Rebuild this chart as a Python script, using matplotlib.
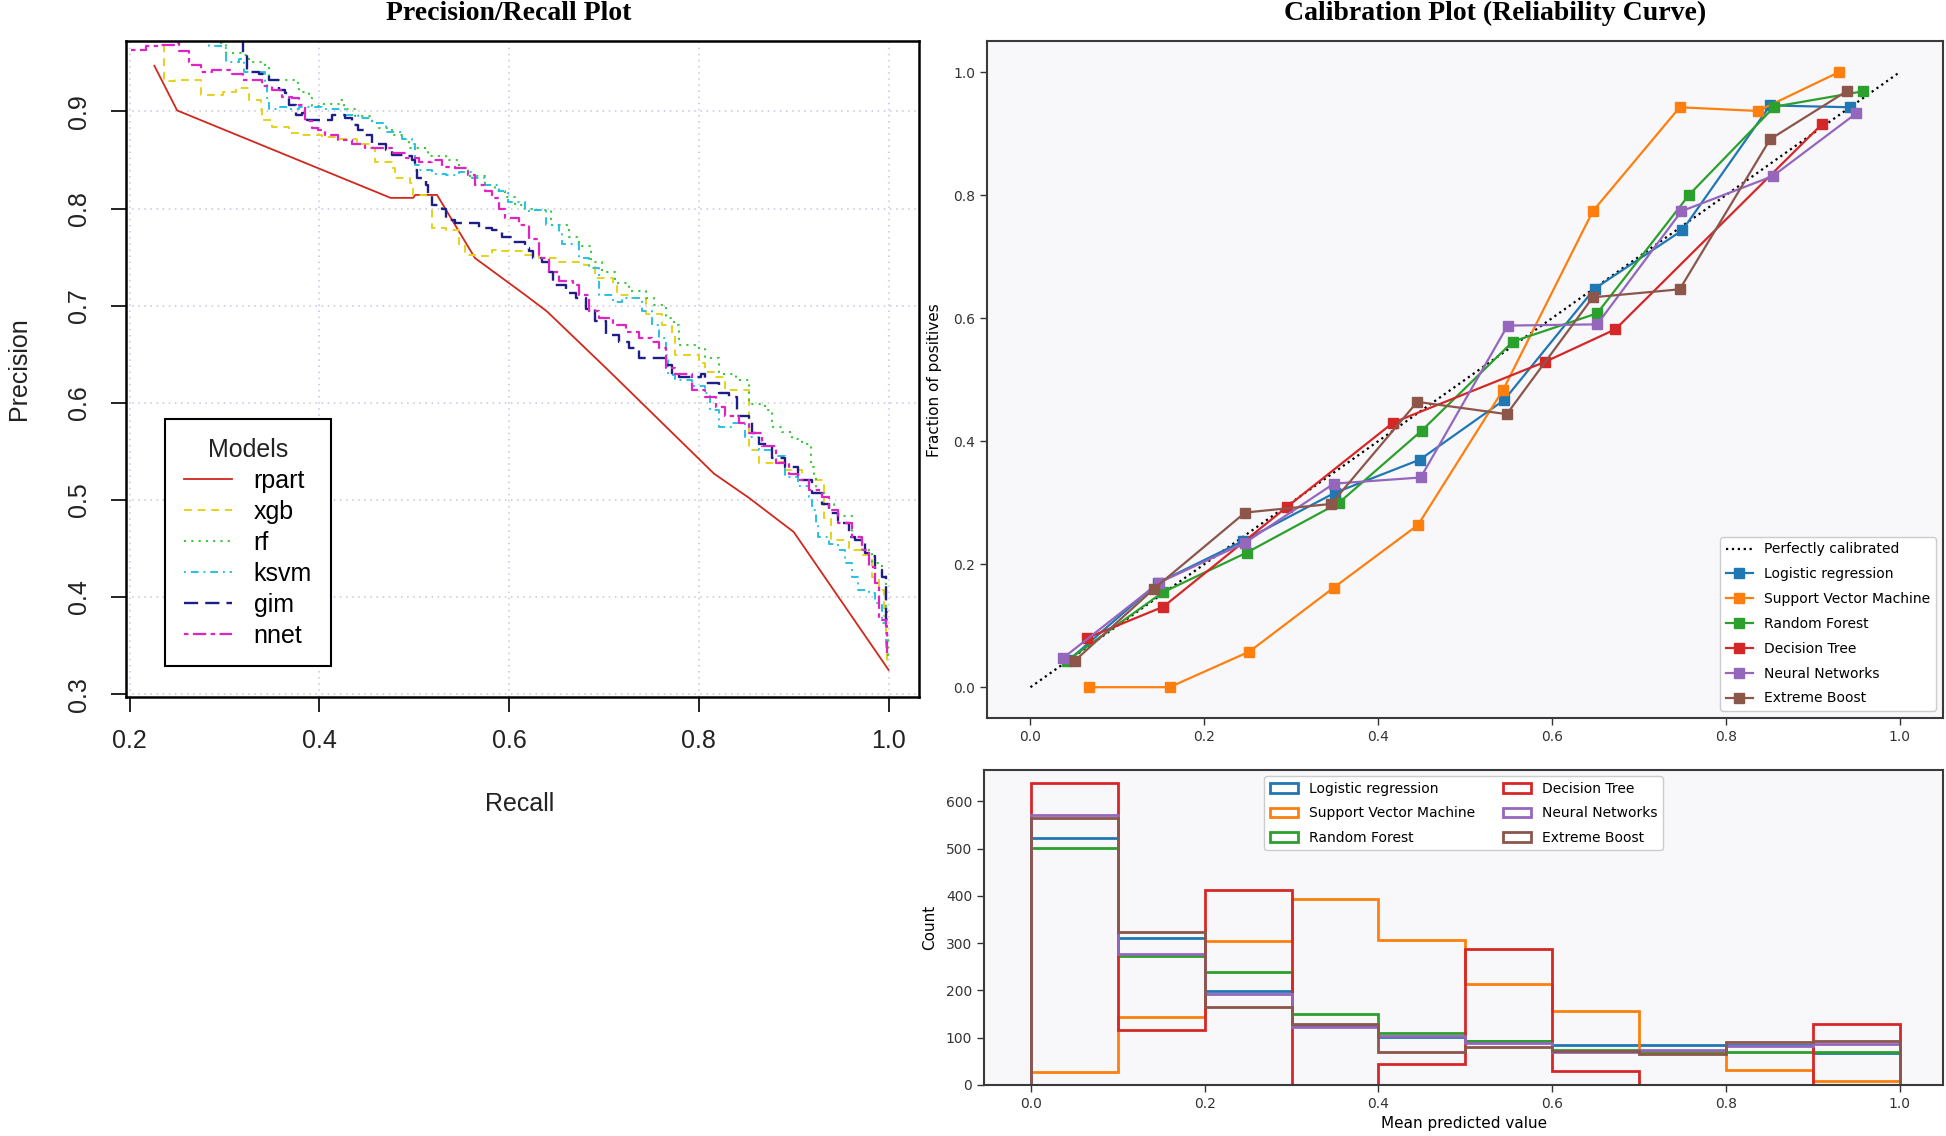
import numpy as np
import matplotlib
matplotlib.use('Agg')
import matplotlib.pyplot as plt
from matplotlib.patches import Patch

plt.rcParams['font.family'] = ['DejaVu Sans']

#==============================================================================
# Precision / recall curves, (recall, precision) vertices
rpart_pr = [(0.226, 0.947), (0.250, 0.901), (0.475, 0.811), (0.499, 0.811),
            (0.501, 0.814), (0.524, 0.814), (0.564, 0.749), (0.617, 0.711),
            (0.640, 0.694), (0.704, 0.634), (0.816, 0.527), (0.853, 0.502),
            (0.900, 0.467), (1.000, 0.325)]

xgb_pr = [(0.226, 0.972), (0.236, 0.970), (0.236, 0.931), (0.248, 0.932),
          (0.275, 0.917), (0.298, 0.920), (0.312, 0.924), (0.326, 0.912),
          (0.338, 0.903), (0.340, 0.891), (0.350, 0.884), (0.368, 0.878),
          (0.378, 0.876), (0.392, 0.876), (0.403, 0.874), (0.420, 0.872),
          (0.440, 0.866), (0.457, 0.862), (0.459, 0.848), (0.477, 0.842),
          (0.480, 0.831), (0.496, 0.826), (0.499, 0.814), (0.512, 0.812),
          (0.519, 0.780), (0.533, 0.778), (0.547, 0.763), (0.554, 0.752),
          (0.564, 0.751), (0.582, 0.757), (0.592, 0.756), (0.617, 0.752),
          (0.632, 0.749), (0.653, 0.745), (0.679, 0.742), (0.691, 0.728),
          (0.709, 0.721), (0.714, 0.711), (0.730, 0.708), (0.744, 0.691),
          (0.761, 0.680), (0.772, 0.670), (0.775, 0.649), (0.800, 0.641),
          (0.807, 0.632), (0.818, 0.627), (0.828, 0.613), (0.853, 0.551),
          (0.863, 0.538), (0.881, 0.539), (0.891, 0.531), (0.909, 0.520),
          (0.932, 0.481), (0.939, 0.459), (0.958, 0.448), (0.972, 0.443),
          (0.983, 0.421), (0.990, 0.407), (0.995, 0.380), (0.997, 0.342),
          (0.998, 0.332)]

rf_pr = [(0.270, 0.976), (0.294, 0.970), (0.301, 0.960), (0.317, 0.958),
         (0.326, 0.951), (0.343, 0.946), (0.347, 0.932), (0.361, 0.932),
         (0.377, 0.929), (0.378, 0.920), (0.389, 0.914), (0.392, 0.906),
         (0.403, 0.908), (0.422, 0.912), (0.426, 0.902), (0.438, 0.895),
         (0.455, 0.888), (0.463, 0.883), (0.477, 0.876), (0.487, 0.872),
         (0.494, 0.862), (0.515, 0.854), (0.533, 0.850), (0.547, 0.842),
         (0.557, 0.834), (0.575, 0.824), (0.585, 0.818), (0.596, 0.812),
         (0.606, 0.804), (0.617, 0.800), (0.625, 0.799), (0.644, 0.783),
         (0.663, 0.771), (0.674, 0.761), (0.686, 0.745), (0.698, 0.735),
         (0.712, 0.723), (0.726, 0.715), (0.744, 0.708), (0.753, 0.701),
         (0.765, 0.687), (0.774, 0.680), (0.779, 0.660), (0.797, 0.656),
         (0.807, 0.646), (0.821, 0.630), (0.839, 0.623), (0.853, 0.599),
         (0.870, 0.593), (0.877, 0.575), (0.888, 0.570), (0.898, 0.563),
         (0.909, 0.558), (0.918, 0.534), (0.921, 0.524), (0.923, 0.507),
         (0.935, 0.496), (0.942, 0.490), (0.947, 0.483), (0.961, 0.462),
         (0.972, 0.448), (0.983, 0.435), (0.993, 0.424), (0.997, 0.411),
         (0.997, 0.387), (0.998, 0.359), (0.999, 0.339)]

ksvm_pr = [(0.270, 0.976), (0.282, 0.970), (0.284, 0.967), (0.298, 0.965),
           (0.301, 0.951), (0.315, 0.954), (0.320, 0.950), (0.320, 0.941),
           (0.329, 0.941), (0.343, 0.931), (0.345, 0.914), (0.347, 0.903),
           (0.357, 0.905), (0.368, 0.903), (0.378, 0.905), (0.392, 0.905),
           (0.403, 0.903), (0.427, 0.896), (0.441, 0.893), (0.455, 0.888),
           (0.470, 0.879), (0.487, 0.872), (0.498, 0.866), (0.501, 0.845),
           (0.505, 0.840), (0.519, 0.836), (0.533, 0.835), (0.547, 0.838),
           (0.561, 0.831), (0.575, 0.824), (0.589, 0.818), (0.599, 0.807),
           (0.617, 0.797), (0.625, 0.799), (0.639, 0.783), (0.653, 0.775),
           (0.656, 0.763), (0.674, 0.749), (0.684, 0.739), (0.695, 0.725),
           (0.695, 0.711), (0.709, 0.704), (0.719, 0.708), (0.730, 0.708),
           (0.740, 0.694), (0.751, 0.680), (0.758, 0.667), (0.765, 0.649),
           (0.767, 0.629), (0.775, 0.623), (0.793, 0.617), (0.807, 0.610),
           (0.812, 0.593), (0.821, 0.575), (0.835, 0.579), (0.849, 0.565),
           (0.863, 0.551), (0.877, 0.545), (0.891, 0.524), (0.905, 0.514),
           (0.916, 0.503), (0.919, 0.490), (0.923, 0.476), (0.926, 0.462),
           (0.937, 0.455), (0.947, 0.448), (0.954, 0.435), (0.961, 0.421),
           (0.968, 0.407), (0.979, 0.404), (0.986, 0.394), (0.993, 0.373),
           (0.997, 0.352), (0.998, 0.345)]

glm_pr = [(0.319, 0.976), (0.319, 0.958), (0.324, 0.941), (0.336, 0.939),
          (0.347, 0.932), (0.357, 0.922), (0.364, 0.919), (0.368, 0.907),
          (0.375, 0.896), (0.382, 0.898), (0.387, 0.891), (0.399, 0.891),
          (0.413, 0.896), (0.427, 0.893), (0.434, 0.886), (0.441, 0.881),
          (0.448, 0.876), (0.455, 0.866), (0.470, 0.860), (0.477, 0.855),
          (0.491, 0.854), (0.498, 0.850), (0.501, 0.840), (0.503, 0.831),
          (0.512, 0.824), (0.515, 0.814), (0.519, 0.804), (0.529, 0.800),
          (0.533, 0.788), (0.543, 0.785), (0.557, 0.785), (0.568, 0.780),
          (0.582, 0.778), (0.592, 0.771), (0.603, 0.766), (0.617, 0.759),
          (0.621, 0.756), (0.625, 0.749), (0.635, 0.745), (0.642, 0.735),
          (0.646, 0.721), (0.660, 0.713), (0.670, 0.708), (0.681, 0.697),
          (0.691, 0.684), (0.702, 0.670), (0.716, 0.663), (0.726, 0.656),
          (0.737, 0.646), (0.751, 0.646), (0.765, 0.639), (0.772, 0.629),
          (0.779, 0.627), (0.802, 0.630), (0.807, 0.620), (0.821, 0.610),
          (0.832, 0.606), (0.840, 0.586), (0.853, 0.582), (0.856, 0.569),
          (0.863, 0.558), (0.877, 0.543), (0.891, 0.534), (0.905, 0.520),
          (0.919, 0.507), (0.930, 0.496), (0.937, 0.486), (0.947, 0.476),
          (0.958, 0.462), (0.965, 0.459), (0.975, 0.445), (0.983, 0.442),
          (0.986, 0.428), (0.993, 0.421), (0.997, 0.394), (0.997, 0.373)]

nnet_pr = [(0.201, 0.963), (0.217, 0.967), (0.231, 0.968), (0.248, 0.970),
           (0.252, 0.962), (0.261, 0.962), (0.263, 0.951), (0.266, 0.948),
           (0.275, 0.941), (0.287, 0.943), (0.301, 0.943), (0.308, 0.939),
           (0.319, 0.932), (0.329, 0.932), (0.340, 0.926), (0.350, 0.922),
           (0.361, 0.915), (0.371, 0.914), (0.378, 0.907), (0.385, 0.890),
           (0.392, 0.883), (0.399, 0.881), (0.406, 0.876), (0.420, 0.871),
           (0.434, 0.866), (0.448, 0.862), (0.466, 0.862), (0.477, 0.857),
           (0.491, 0.852), (0.505, 0.848), (0.519, 0.850), (0.529, 0.843),
           (0.543, 0.842), (0.557, 0.835), (0.564, 0.824), (0.575, 0.818),
           (0.582, 0.811), (0.589, 0.800), (0.596, 0.790), (0.610, 0.783),
           (0.621, 0.769), (0.632, 0.749), (0.642, 0.735), (0.653, 0.725),
           (0.667, 0.721), (0.674, 0.711), (0.684, 0.694), (0.695, 0.687),
           (0.709, 0.680), (0.723, 0.673), (0.737, 0.667), (0.751, 0.663),
           (0.758, 0.656), (0.765, 0.636), (0.775, 0.630), (0.793, 0.613),
           (0.807, 0.606), (0.818, 0.596), (0.828, 0.586), (0.842, 0.579),
           (0.853, 0.569), (0.867, 0.555), (0.881, 0.538), (0.895, 0.527),
           (0.905, 0.520), (0.916, 0.510), (0.930, 0.503), (0.937, 0.490),
           (0.947, 0.476), (0.961, 0.462), (0.972, 0.448), (0.979, 0.431),
           (0.986, 0.414), (0.990, 0.376), (0.997, 0.370), (0.998, 0.342)]

pr_names = ['rpart', 'xgb', 'rf', 'ksvm', 'gim', 'nnet']

#==============================================================================
# Calibration curves (mean predicted value, fraction of positives)
lr_x  = [0.045, 0.147, 0.245, 0.350, 0.448, 0.545, 0.649, 0.750, 0.851, 0.943]
lr_y  = [0.045, 0.170, 0.238, 0.316, 0.370, 0.467, 0.648, 0.743, 0.946, 0.943]
svm_x = [0.067, 0.160, 0.252, 0.349, 0.446, 0.544, 0.647, 0.747, 0.837, 0.930]
svm_y = [0.000, 0.000, 0.058, 0.162, 0.264, 0.484, 0.774, 0.943, 0.937, 1.000]
rfc_x = [0.042, 0.152, 0.249, 0.355, 0.450, 0.555, 0.652, 0.758, 0.856, 0.958]
rfc_y = [0.043, 0.154, 0.219, 0.300, 0.417, 0.562, 0.608, 0.801, 0.944, 0.969]
dt_x  = [0.065, 0.153, 0.295, 0.417, 0.592, 0.673, 0.911]
dt_y  = [0.080, 0.131, 0.293, 0.430, 0.529, 0.582, 0.916]
nn_x  = [0.038, 0.148, 0.247, 0.349, 0.449, 0.549, 0.652, 0.749, 0.854, 0.950]
nn_y  = [0.048, 0.170, 0.235, 0.331, 0.341, 0.588, 0.590, 0.774, 0.831, 0.933]
xb_x  = [0.051, 0.142, 0.247, 0.346, 0.445, 0.548, 0.647, 0.747, 0.851, 0.939]
xb_y  = [0.043, 0.160, 0.284, 0.298, 0.464, 0.444, 0.634, 0.647, 0.891, 0.969]

cal_names = ['Logistic regression', 'Support Vector Machine', 'Random Forest',
             'Decision Tree', 'Neural Networks', 'Extreme Boost']

# Histogram counts, 10 bins on [0, 1]
bin_edges = [0.0, 0.1, 0.2, 0.3, 0.4, 0.5, 0.6, 0.7, 0.8, 0.9, 1.0]
lr_cnt  = [522, 310, 198, 125, 101, 92, 84, 84, 84, 67]
svm_cnt = [27, 143, 304, 393, 307, 214, 157, 67, 32, 9]
rfc_cnt = [502, 273, 239, 150, 109, 94, 75, 71, 70, 70]
dt_cnt  = [639, 116, 413, 0, 44, 287, 30, 0, 0, 129]
nn_cnt  = [570, 276, 193, 123, 103, 88, 70, 75, 82, 87]
xb_cnt  = [564, 324, 164, 128, 70, 80, 72, 65, 91, 92]

#==============================================================================
fig = plt.figure(figsize=(19.46, 11.36), dpi=100)
ax1 = fig.add_axes([0.0647, 0.3864, 0.4075, 0.5775])
ax2 = fig.add_axes([0.5072, 0.3680, 0.4913, 0.5955])
ax3 = fig.add_axes([0.5057, 0.0449, 0.4928, 0.2777])

rfont = 'Liberation Sans'

#---------------------------------------------------------- precision / recall
pr_sets   = [rpart_pr, xgb_pr, rf_pr, ksvm_pr, glm_pr, nnet_pr]
pr_colors = ['#d0281c', '#e6d21a', '#3cc83c', '#26c2e2', '#1e1e84', '#e024c4']
pr_styles = ['-', (0, (4, 3)), (0, (1, 2.5)), (0, (1, 2.5, 4, 2.5)),
             (0, (6, 3)), (0, (2, 2, 6, 2))]
pr_widths = [1.3, 1.4, 1.5, 1.4, 1.7, 1.6]
for name, pts, col, ls, lw in zip(pr_names, pr_sets, pr_colors, pr_styles, pr_widths):
    r, p = np.array(pts).T
    ds = 'default' if name == 'rpart' else 'steps-post'
    ax1.plot(r, p, color=col, ls=ls, lw=lw, drawstyle=ds, label=name)

ax1.set_xlim(0.196, 1.032)
ax1.set_ylim(0.297, 0.9725)
ax1.set_xticks([0.2, 0.4, 0.6, 0.8, 1.0], ['0.2', '0.4', '0.6', '0.8', '1.0'],
               fontfamily=rfont)
ax1.set_yticks([0.3, 0.4, 0.5, 0.6, 0.7, 0.8, 0.9],
               ['0.3', '0.4', '0.5', '0.6', '0.7', '0.8', '0.9'],
               fontfamily=rfont, rotation=90, va='center')
ax1.grid(True, color='#c8c2e6', ls=(0, (1, 3)), lw=1.1)
ax1.tick_params(direction='out', length=11, width=1.4, labelsize=18,
                colors='#222222')
ax1.tick_params(axis='x', pad=12)
ax1.tick_params(axis='y', pad=14)
for sp in ax1.spines.values():
    sp.set_color('black')
    sp.set_linewidth(1.8)

fig.text(520 / 1946, 1 - 804 / 1136, 'Recall', ha='center', va='center',
         fontsize=18, family=rfont, color='#222222')
fig.text(19 / 1946, 1 - 369 / 1136, 'Precision', ha='center', va='center',
         rotation=90, fontsize=18, family=rfont, color='#222222')

leg1 = ax1.legend(title='Models', loc='upper left', bbox_to_anchor=(0.049, 0.424),
                  borderaxespad=0, fancybox=False, framealpha=1,
                  edgecolor='black', prop={'family': rfont, 'size': 18},
                  handlelength=1.95, handletextpad=0.85, borderpad=0.75,
                  labelspacing=0.28)
leg1.get_frame().set_linewidth(1.5)
leg1.get_title().set_fontfamily(rfont)
leg1.get_title().set_fontsize(18)
leg1.get_title().set_color('#222222')

#---------------------------------------------------------- calibration curves
cal_x = [lr_x, svm_x, rfc_x, dt_x, nn_x, xb_x]
cal_y = [lr_y, svm_y, rfc_y, dt_y, nn_y, xb_y]
face = '#f8f8fb'
ax2.set_facecolor(face)
ax2.plot([0, 1], [0, 1], 'k:', lw=1.6, label='Perfectly calibrated')
for i, (name, xs, ys) in enumerate(zip(cal_names, cal_x, cal_y)):
    ax2.plot(xs, ys, 's-', color='C%d' % i, lw=1.6, ms=7.5, label=name)
ax2.set_xlim(-0.05, 1.05)
ax2.set_ylim(-0.05, 1.05)
ax2.set_xticks([0.0, 0.2, 0.4, 0.6, 0.8, 1.0])
ax2.set_yticks([0.0, 0.2, 0.4, 0.6, 0.8, 1.0])
ax2.set_ylabel('Fraction of positives', fontsize=11, labelpad=8)
ax2.legend(loc='lower right', fontsize=10, labelspacing=0.78, fancybox=True,
           edgecolor='#cccccc', framealpha=1)

#---------------------------------------------------------- histogram
cnts = [lr_cnt, svm_cnt, rfc_cnt, dt_cnt, nn_cnt, xb_cnt]
ax3.set_facecolor(face)
handles = []
for i, (name, c) in enumerate(zip(cal_names, cnts)):
    ax3.stairs(c, bin_edges, baseline=0, color='C%d' % i, lw=2, label=name)
    handles.append(Patch(facecolor='none', edgecolor='C%d' % i, lw=2, label=name))
ax3.set_xlim(-0.054, 1.05)
ax3.set_ylim(0, 667)
ax3.set_xticks([0.0, 0.2, 0.4, 0.6, 0.8, 1.0])
ax3.set_yticks([0, 100, 200, 300, 400, 500, 600])
ax3.set_xlabel('Mean predicted value', fontsize=11, labelpad=4)
ax3.set_ylabel('Count', fontsize=11, labelpad=6)
ax3.legend(handles=handles, loc='upper center', ncol=2, fontsize=10,
           labelspacing=0.75, edgecolor='#cccccc', framealpha=1)

for ax in (ax2, ax3):
    ax.tick_params(labelsize=10, length=5, width=1.0, colors='#333333')
    for sp in ax.spines.values():
        sp.set_color('#3a3a3a')
        sp.set_linewidth(1.5)

#---------------------------------------------------------- titles
fig.text(509 / 1946, 1 - 13 / 1136, 'Precision/Recall Plot', ha='center',
         va='center', fontsize=20, fontweight='bold', family='Liberation Serif')
fig.text(1495 / 1946, 1 - 13 / 1136, 'Calibration Plot (Reliability Curve)',
         ha='center', va='center', fontsize=20, fontweight='bold',
         family='Liberation Serif')

fig.savefig('out.png', dpi=100, facecolor='white')
plt.close(fig)
